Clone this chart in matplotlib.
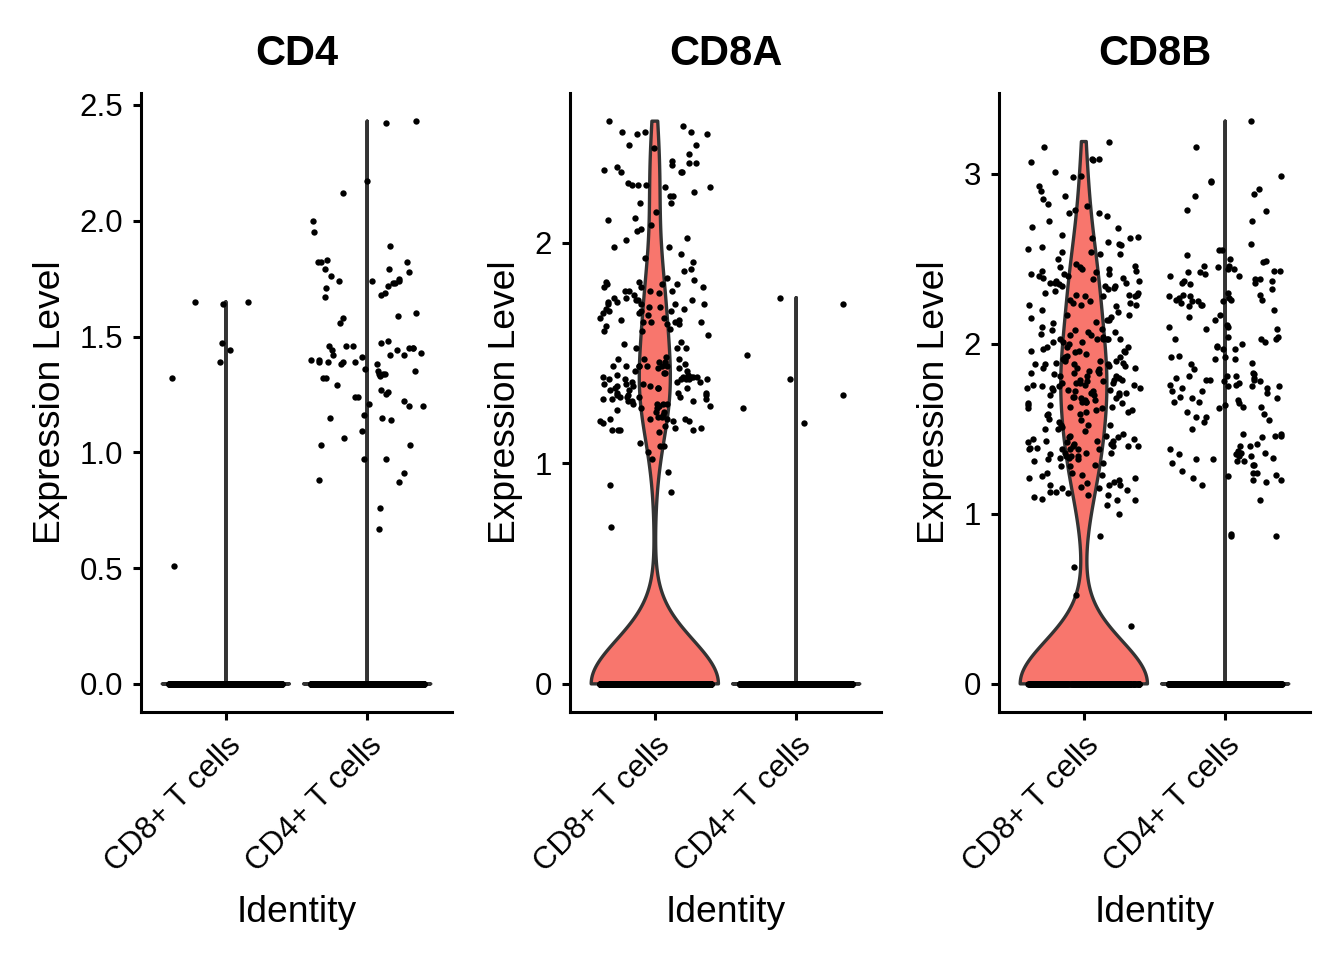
import numpy as np
import matplotlib.pyplot as plt

plt.rcParams['font.family'] = ['Liberation Sans', 'DejaVu Sans']

genes = ['CD4', 'CD8A', 'CD8B']
identities = ['CD8+ T cells', 'CD4+ T cells']
cells_per_identity = [620, 1200]
identity_colors = ['#F8766D', '#00BFC4']
gene_yticks = {
    'CD4': [0.0, 0.5, 1.0, 1.5, 2.0, 2.5],
    'CD8A': [0, 1, 2],
    'CD8B': [0, 1, 2, 3],
}
gene_tick_fmt = {'CD4': '{:.1f}', 'CD8A': '{:.0f}', 'CD8B': '{:.0f}'}

# non-zero expression values (all other cells are 0)
cd4_in_cd8 = [1.65, 1.65, 1.64, 1.47, 1.44, 1.39, 1.32, 0.51]
cd4_in_cd4 = [
    2.43, 2.42, 2.17, 2.12, 2.00, 1.95, 1.89, 1.83, 1.82, 1.82, 1.82, 1.79, 1.79,
    1.78, 1.76, 1.75, 1.74, 1.74, 1.74, 1.73, 1.73, 1.72, 1.71, 1.69, 1.68, 1.67,
    1.60, 1.59, 1.58, 1.56, 1.48, 1.47, 1.46, 1.46, 1.46, 1.45, 1.45, 1.45, 1.44,
    1.44, 1.43, 1.42, 1.42, 1.42, 1.41, 1.40, 1.40, 1.39, 1.39, 1.39, 1.39, 1.38,
    1.38, 1.36, 1.35, 1.35, 1.34, 1.34, 1.34, 1.33, 1.32, 1.32, 1.29, 1.27, 1.26,
    1.25, 1.24, 1.24, 1.22, 1.21, 1.20, 1.20, 1.16, 1.15, 1.15, 1.14, 1.09, 1.06,
    1.03, 1.03, 0.97, 0.97, 0.91, 0.88, 0.87, 0.76, 0.67,
]
cd8a_in_cd8 = [
    2.55, 2.53, 2.50, 2.50, 2.49, 2.50, 2.49, 2.44, 2.44, 2.43, 2.40, 2.36, 2.35,
    2.36, 2.37, 2.34, 2.33, 2.32, 2.32, 2.32, 2.27, 2.26, 2.26, 2.25, 2.26, 2.25,
    2.23, 2.21, 2.21, 2.18, 2.18, 2.14, 2.11, 2.10, 2.08, 2.06, 2.05, 2.02, 2.01,
    1.98, 1.98, 1.95, 1.93, 1.91, 1.88, 1.87, 1.84, 1.83, 1.82, 1.82, 1.81, 1.81,
    1.81, 1.80, 1.80, 1.80, 1.78, 1.78, 1.78, 1.78, 1.77, 1.76, 1.75, 1.75, 1.74,
    1.74, 1.74, 1.73, 1.73, 1.72, 1.72, 1.72, 1.72, 1.71, 1.71, 1.70, 1.70, 1.69,
    1.69, 1.69, 1.68, 1.68, 1.67, 1.66, 1.66, 1.65, 1.65, 1.64, 1.64, 1.64, 1.64,
    1.63, 1.63, 1.62, 1.61, 1.60, 1.60, 1.58, 1.55, 1.54, 1.52, 1.52, 1.52, 1.48,
    1.47, 1.47, 1.47, 1.46, 1.46, 1.45, 1.44, 1.44, 1.44, 1.44, 1.44, 1.44, 1.44,
    1.43, 1.43, 1.42, 1.42, 1.41, 1.41, 1.40, 1.40, 1.39, 1.39, 1.39, 1.39, 1.39,
    1.38, 1.38, 1.38, 1.38, 1.38, 1.38, 1.37, 1.37, 1.37, 1.36, 1.36, 1.36, 1.35,
    1.35, 1.35, 1.34, 1.34, 1.34, 1.34, 1.33, 1.33, 1.32, 1.32, 1.32, 1.31, 1.31,
    1.31, 1.30, 1.30, 1.30, 1.30, 1.29, 1.29, 1.29, 1.28, 1.28, 1.28, 1.27, 1.27,
    1.27, 1.27, 1.26, 1.26, 1.25, 1.25, 1.24, 1.23, 1.23, 1.22, 1.21, 1.21, 1.20,
    1.20, 1.20, 1.20, 1.19, 1.19, 1.19, 1.18, 1.17, 1.16, 1.16, 1.15, 1.15, 1.15,
    1.15, 1.14, 1.09, 1.08, 1.08, 1.05, 1.02, 0.96, 0.90, 0.87, 0.71,
]
cd8a_in_cd4 = [1.75, 1.72, 1.49, 1.38, 1.31, 1.25, 1.18]
cd8b_in_cd8 = [
    3.19, 3.16, 3.09, 3.09, 3.08, 3.07, 3.01, 2.99, 2.98, 2.93, 2.90, 2.87, 2.85,
    2.82, 2.81, 2.79, 2.77, 2.77, 2.75, 2.72, 2.69, 2.68, 2.64, 2.63, 2.62, 2.62,
    2.60, 2.59, 2.58, 2.57, 2.56, 2.54, 2.54, 2.53, 2.53, 2.50, 2.47, 2.46, 2.45,
    2.45, 2.44, 2.44, 2.43, 2.43, 2.42, 2.41, 2.41, 2.41, 2.40, 2.40, 2.39, 2.39,
    2.38, 2.37, 2.37, 2.36, 2.36, 2.36, 2.35, 2.34, 2.34, 2.34, 2.33, 2.32, 2.31,
    2.30, 2.30, 2.29, 2.29, 2.29, 2.28, 2.28, 2.28, 2.26, 2.25, 2.24, 2.24, 2.23,
    2.23, 2.23, 2.22, 2.20, 2.19, 2.17, 2.17, 2.16, 2.15, 2.14, 2.14, 2.13, 2.12,
    2.10, 2.09, 2.08, 2.08, 2.07, 2.07, 2.06, 2.05, 2.05, 2.04, 2.03, 2.03, 2.03,
    2.03, 2.03, 2.03, 2.01, 2.01, 2.01, 2.00, 1.98, 1.98, 1.98, 1.97, 1.96, 1.96,
    1.96, 1.95, 1.95, 1.94, 1.93, 1.92, 1.92, 1.91, 1.91, 1.90, 1.90, 1.89, 1.88,
    1.88, 1.88, 1.87, 1.90, 1.89, 1.88, 1.87, 1.86, 1.86, 1.86, 1.85, 1.84, 1.84,
    1.83, 1.83, 1.83, 1.82, 1.81, 1.81, 1.81, 1.80, 1.79, 1.79, 1.79, 1.78, 1.78,
    1.77, 1.77, 1.77, 1.77, 1.76, 1.76, 1.76, 1.75, 1.75, 1.74, 1.74, 1.74, 1.73,
    1.73, 1.73, 1.72, 1.72, 1.71, 1.71, 1.71, 1.70, 1.70, 1.70, 1.69, 1.69, 1.68,
    1.68, 1.67, 1.67, 1.66, 1.66, 1.66, 1.65, 1.65, 1.64, 1.64, 1.63, 1.63, 1.62,
    1.62, 1.61, 1.61, 1.60, 1.60, 1.59, 1.59, 1.58, 1.56, 1.55, 1.54, 1.52, 1.52,
    1.52, 1.51, 1.50, 1.50, 1.49, 1.47, 1.46, 1.46, 1.45, 1.45, 1.44, 1.44, 1.43,
    1.43, 1.43, 1.42, 1.42, 1.41, 1.41, 1.40, 1.40, 1.40, 1.40, 1.39, 1.39, 1.38,
    1.38, 1.38, 1.38, 1.38, 1.36, 1.36, 1.36, 1.35, 1.34, 1.34, 1.34, 1.33, 1.33,
    1.32, 1.32, 1.31, 1.30, 1.29, 1.28, 1.28, 1.24, 1.24, 1.23, 1.23, 1.22, 1.21,
    1.21, 1.20, 1.19, 1.18, 1.17, 1.17, 1.17, 1.16, 1.15, 1.15, 1.14, 1.13, 1.13,
    1.12, 1.11, 1.11, 1.10, 1.09, 1.08, 1.08, 1.05, 1.00, 0.87, 0.69, 0.52, 0.34,
]
cd8b_in_cd4 = [
    3.31, 3.16, 2.99, 2.96, 2.95, 2.91, 2.88, 2.87, 2.79, 2.78, 2.72, 2.59, 2.55,
    2.55, 2.52, 2.50, 2.49, 2.48, 2.46, 2.46, 2.45, 2.44, 2.44, 2.43, 2.43, 2.42,
    2.42, 2.41, 2.40, 2.40, 2.38, 2.38, 2.37, 2.37, 2.36, 2.36, 2.35, 2.32, 2.30,
    2.29, 2.29, 2.28, 2.28, 2.27, 2.27, 2.26, 2.26, 2.26, 2.25, 2.25, 2.25, 2.24,
    2.23, 2.23, 2.22, 2.20, 2.17, 2.16, 2.14, 2.11, 2.10, 2.10, 2.09, 2.09, 2.04,
    2.04, 2.03, 2.03, 2.03, 2.01, 2.00, 1.99, 1.98, 1.97, 1.97, 1.93, 1.92, 1.92,
    1.91, 1.91, 1.89, 1.88, 1.85, 1.83, 1.82, 1.81, 1.81, 1.81, 1.80, 1.80, 1.79,
    1.79, 1.79, 1.78, 1.78, 1.77, 1.76, 1.76, 1.75, 1.75, 1.75, 1.74, 1.74, 1.72,
    1.72, 1.71, 1.69, 1.68, 1.68, 1.67, 1.66, 1.66, 1.65, 1.64, 1.63, 1.63, 1.62,
    1.60, 1.59, 1.57, 1.57, 1.55, 1.54, 1.50, 1.47, 1.47, 1.46, 1.46, 1.45, 1.41,
    1.40, 1.40, 1.38, 1.37, 1.36, 1.36, 1.35, 1.35, 1.34, 1.34, 1.33, 1.32, 1.32,
    1.31, 1.31, 1.30, 1.29, 1.29, 1.25, 1.24, 1.24, 1.23, 1.22, 1.21, 1.20, 1.20,
    1.19, 1.17, 1.08, 0.88, 0.87, 0.87,
]

expression = {
    'CD4': [cd4_in_cd8, cd4_in_cd4],
    'CD8A': [cd8a_in_cd8, cd8a_in_cd4],
    'CD8B': [cd8b_in_cd8, cd8b_in_cd4],
}


def bw_nrd0(x):
    # R's bw.nrd0; a zero IQR means the violin collapses to a line
    q75, q25 = np.percentile(x, [75, 25])
    lo = min(np.std(x, ddof=1), (q75 - q25) / 1.34)
    return 0.9 * lo * len(x) ** -0.2


def spread(n, width=0.4, seed=0.0):
    # deterministic scattered horizontal offsets (sine hash, no RNG)
    h = np.sin(np.arange(1, n + 1) * 12.9898 + seed * 78.233) * 43758.5453
    return (h % 1.0) * 2 * width - width


fig = plt.figure(figsize=(13.44, 9.6), dpi=100)
W, H = 1344, 960
panel_left = [141, 570, 999]

for k, gene in enumerate(genes):
    ax = fig.add_axes([panel_left[k] / W, (H - 712) / H, 311 / W, 619 / H])
    ymax = 0
    for i, nonzero in enumerate(expression[gene]):
        pos = i + 1
        nz = np.array(nonzero)
        values = np.concatenate([np.zeros(cells_per_identity[i] - len(nz)), nz])
        ymax = max(ymax, values.max())

        grid = np.linspace(values.min(), values.max(), 512)
        bw = bw_nrd0(values)
        if bw > 0:
            dens = np.exp(-0.5 * ((grid[:, None] - values[None, :]) / bw) ** 2).sum(axis=1)
        else:
            dens = (grid == 0).astype(float)
        half = 0.45 * dens / dens.max()
        ax.fill(np.r_[pos - half, (pos + half)[::-1]], np.r_[grid, grid[::-1]],
                facecolor=identity_colors[i], edgecolor='#333333', linewidth=2.4,
                joinstyle='round', zorder=2)

        ax.scatter(pos + spread(len(values), seed=3 * k + i), values, s=21,
                   c='black', linewidths=0, zorder=3)

    ax.set_xlim(0.4, 2.6)
    ax.set_ylim(-0.05 * ymax, 1.05 * ymax)
    ax.set_xticks([1, 2])
    ax.set_xticklabels(identities)
    ticks = gene_yticks[gene]
    ax.set_yticks(ticks)
    ax.set_yticklabels([gene_tick_fmt[gene].format(t) for t in ticks])

    for side in ['top', 'right']:
        ax.spines[side].set_visible(False)
    for side in ['left', 'bottom']:
        ax.spines[side].set_linewidth(2.2)
    ax.tick_params(length=6, width=2.2, labelsize=22.5, pad=7, colors='black')
    plt.setp(ax.get_xticklabels(), rotation=45, ha='right', va='top',
             rotation_mode='anchor')

    ax.set_title(gene, fontsize=30, fontweight='bold', pad=20)
    ax.set_ylabel('Expression Level', fontsize=26.8, labelpad=8)
    ax.set_xlabel('Identity', fontsize=26.8)
    ax.xaxis.set_label_coords(0.5, -0.295)

fig.savefig('out.png', dpi=100)
